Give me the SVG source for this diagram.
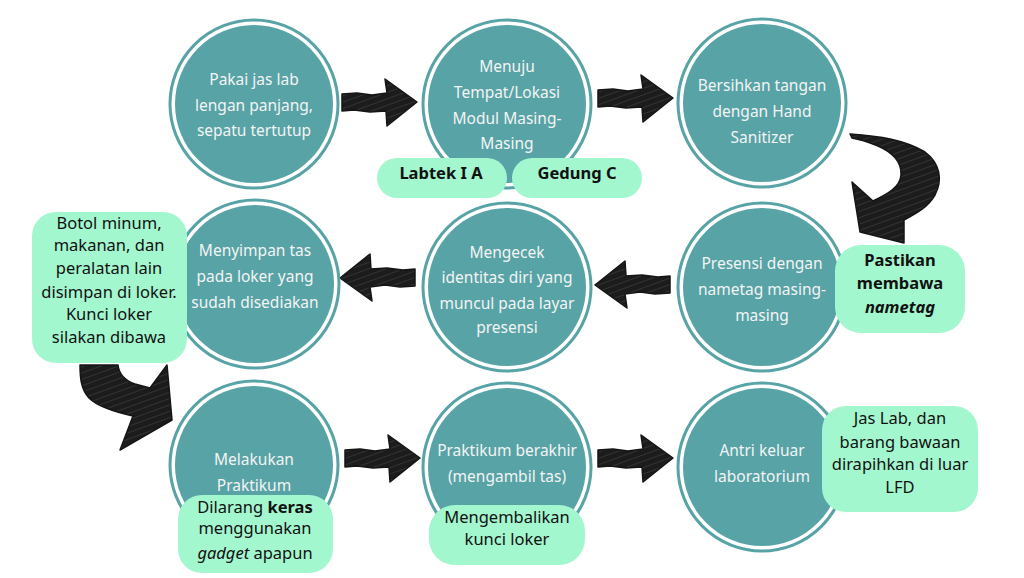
<svg xmlns="http://www.w3.org/2000/svg" width="1024" height="578" viewBox="0 0 1024 578">
<defs>
<style>
.ring{fill:#ffffff;stroke:#57a3a6;stroke-width:3}
.disc{fill:#57a3a6}
.ct{font-family:"Noto Sans","Open Sans",sans-serif;font-size:15.5px;fill:#f4f4f4;text-anchor:middle}
.box{fill:#a3f7cf}
.bt{font-family:"Noto Sans","Open Sans",sans-serif;font-size:16.5px;fill:#111;text-anchor:middle}
.bb{font-weight:bold}
.arr{fill:url(#hatch);stroke:#151515;stroke-width:1.5;stroke-linejoin:round}
</style>
<pattern id="hatch" patternUnits="userSpaceOnUse" width="6" height="6" patternTransform="rotate(70)">
<rect width="6" height="6" fill="#1c1c1c"/>
<line x1="0" y1="0" x2="0" y2="6" stroke="#4a4a4a" stroke-width="1"/>
</pattern>
<path id="sarrow" d="M0,-8 L15,-9 L30,-7 L45,-9 L43,-23 L75,0 L45,24 L44,9 L28,10 L12,8 L0,9 Z"/>
</defs>
<rect width="1024" height="578" fill="#ffffff"/>

<g id="connectors">
<use href="#sarrow" class="arr" transform="translate(342,102)"/>
<use href="#sarrow" class="arr" transform="translate(598,98)"/>
<use href="#sarrow" class="arr" transform="translate(670,285) rotate(180)"/>
<use href="#sarrow" class="arr" transform="translate(415,278) rotate(180)"/>
<use href="#sarrow" class="arr" transform="translate(345,458)"/>
<use href="#sarrow" class="arr" transform="translate(598,458)"/>
<path class="arr" d="M850,134 C880,136 905,140 925,152 C940,163 943,180 935,195 C928,207 917,213 904,220 L904,243 L860,232 L852,182 L873,201 C888,194 900,187 901,175 C902,162 892,152 878,146 C868,142 858,139 852,138 Z"/>
<path class="arr" d="M80,365 L118,365 C119,374 124,380 135,384 L150,388 L167,365 L172,420 L120,450 L133,416 C115,412 98,407 89,398 C81,389 80,378 80,365 Z"/>
</g>

<g id="n1">
<circle class="ring" cx="254" cy="104" r="84"/>
<circle class="disc" cx="254" cy="104" r="79"/>
<text class="ct" x="254" y="85">Pakai jas lab</text>
<text class="ct" x="254" y="111">lengan panjang,</text>
<text class="ct" x="254" y="136">sepatu tertutup</text>
</g>
<g id="n2">
<circle class="ring" cx="507" cy="104" r="84"/>
<circle class="disc" cx="507" cy="104" r="79"/>
<text class="ct" x="507" y="72">Menuju</text>
<text class="ct" x="507" y="98">Tempat/Lokasi</text>
<text class="ct" x="507" y="124">Modul Masing-</text>
<text class="ct" x="507" y="149">Masing</text>
</g>
<g id="n3">
<circle class="ring" cx="762" cy="103" r="84"/>
<circle class="disc" cx="762" cy="103" r="79"/>
<text class="ct" x="762" y="91">Bersihkan tangan</text>
<text class="ct" x="762" y="117">dengan Hand</text>
<text class="ct" x="762" y="143">Sanitizer</text>
</g>
<g id="n4">
<circle class="ring" cx="762" cy="287" r="84"/>
<circle class="disc" cx="762" cy="287" r="79"/>
<text class="ct" x="762" y="269">Presensi dengan</text>
<text class="ct" x="762" y="295">nametag masing-</text>
<text class="ct" x="762" y="321">masing</text>
</g>
<g id="n5">
<circle class="ring" cx="507" cy="287" r="84"/>
<circle class="disc" cx="507" cy="287" r="79"/>
<text class="ct" x="507" y="258">Mengecek</text>
<text class="ct" x="507" y="283">identitas diri yang</text>
<text class="ct" x="507" y="309">muncul pada layar</text>
<text class="ct" x="507" y="333">presensi</text>
</g>
<g id="n6">
<circle class="ring" cx="255" cy="284" r="84"/>
<circle class="disc" cx="255" cy="284" r="79"/>
<text class="ct" x="255" y="256">Menyimpan tas</text>
<text class="ct" x="255" y="282">pada loker yang</text>
<text class="ct" x="255" y="308">sudah disediakan</text>
</g>
<g id="n7">
<circle class="ring" cx="254" cy="465" r="84"/>
<circle class="disc" cx="254" cy="465" r="79"/>
<text class="ct" x="254" y="465">Melakukan</text>
<text class="ct" x="254" y="491">Praktikum</text>
</g>
<g id="n8">
<circle class="ring" cx="507" cy="467" r="84"/>
<circle class="disc" cx="507" cy="467" r="79"/>
<text class="ct" x="507" y="456">Praktikum berakhir</text>
<text class="ct" x="507" y="482">(mengambil tas)</text>
</g>
<g id="n9">
<circle class="ring" cx="762" cy="467" r="84"/>
<circle class="disc" cx="762" cy="467" r="79"/>
<text class="ct" x="762" y="456">Antri keluar</text>
<text class="ct" x="762" y="482">laboratorium</text>
</g>

<g id="c-labtek">
<rect class="box" x="377" y="158" width="130" height="40" rx="20"/>
<text class="bt bb" x="441" y="179">Labtek I A</text>
</g>
<g id="c-gedung">
<rect class="box" x="512" y="158" width="130" height="40" rx="20"/>
<text class="bt bb" x="577" y="179">Gedung C</text>
</g>
<g id="c-pastikan">
<rect class="box" x="835" y="245" width="130" height="88" rx="26"/>
<text class="bt bb" x="900" y="266">Pastikan</text>
<text class="bt bb" x="900" y="289">membawa</text>
<text class="bt bb" x="900" y="313" font-style="italic">nametag</text>
</g>
<g id="c-botol">
<rect class="box" x="32" y="212" width="155" height="151" rx="24"/>
<text class="bt" x="109" y="229">Botol minum,</text>
<text class="bt" x="109" y="251">makanan, dan</text>
<text class="bt" x="109" y="274">peralatan lain</text>
<text class="bt" x="109" y="298">disimpan di loker.</text>
<text class="bt" x="109" y="320">Kunci loker</text>
<text class="bt" x="109" y="343">silakan dibawa</text>
</g>
<g id="c-dilarang">
<rect class="box" x="178" y="495" width="155" height="78" rx="24"/>
<text class="bt" x="255" y="513">Dilarang <tspan font-weight="bold">keras</tspan></text>
<text class="bt" x="255" y="534">menggunakan</text>
<text class="bt" x="255" y="559"><tspan font-style="italic">gadget</tspan> apapun</text>
</g>
<g id="c-kunci">
<rect class="box" x="429" y="505" width="156" height="60" rx="26"/>
<text class="bt" x="507" y="523">Mengembalikan</text>
<text class="bt" x="507" y="545">kunci loker</text>
</g>
<g id="c-jas">
<rect class="box" x="822" y="406" width="156" height="106" rx="24"/>
<text class="bt" x="900" y="424">Jas Lab, dan</text>
<text class="bt" x="900" y="448">barang bawaan</text>
<text class="bt" x="900" y="470">dirapihkan di luar</text>
<text class="bt" x="900" y="493">LFD</text>
</g>
</svg>
